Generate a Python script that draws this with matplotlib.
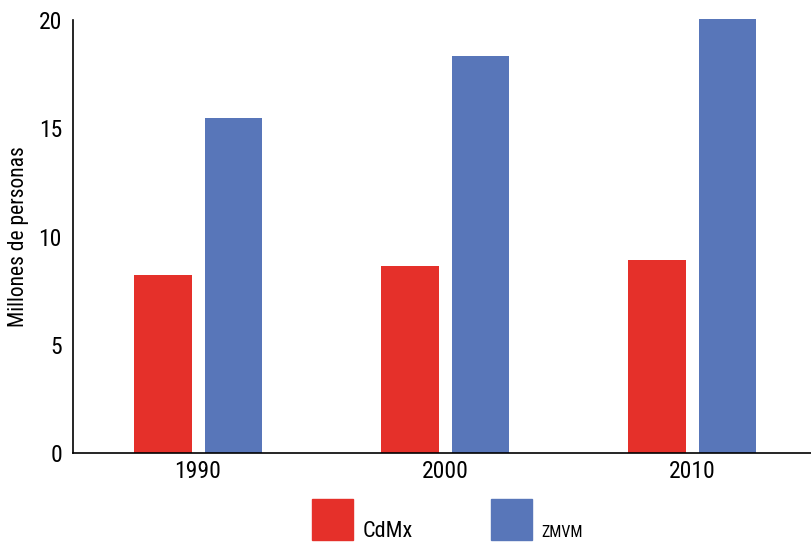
import matplotlib
matplotlib.use("Agg")
import matplotlib.pyplot as plt
from matplotlib.patches import Rectangle
from matplotlib import font_manager
import numpy as np

years = ["1990", "2000", "2010"]
cdmx = [8.22, 8.63, 8.91]
zmvm = [15.5, 18.35, 20.08]
series_names = ["CdMx", "ZMVM"]
yticks = [0, 5, 10, 15, 20]

RED = "#E5302A"
BLUE = "#5876B9"

# pick a condensed sans that is installed
names = {f.name for f in font_manager.fontManager.ttflist}
family = "DejaVu Sans"
for cand in ["Roboto Condensed", "Archivo Narrow", "Liberation Sans Narrow",
             "Barlow Semi Condensed", "Asap Condensed"]:
    if cand in names:
        family = cand
        break
plt.rcParams["font.family"] = [family, "DejaVu Sans"]

fig = plt.figure(figsize=(8.11, 5.43), dpi=100)
ax = fig.add_axes([0.090, 0.1657, 0.91, 0.797])

x = np.arange(len(years))
w = 0.232
ax.bar(x - 0.142, cdmx, w, color=RED, clip_on=False, zorder=2)
ax.bar(x + 0.144, zmvm, w, color=BLUE, clip_on=False, zorder=2)

ax.set_xlim(-0.506, 2.482)
ax.set_ylim(0, 20)
ax.set_xticks(x)
ax.set_xticklabels(years, fontsize=17)
ax.set_yticks(yticks)
ax.set_yticklabels([str(t) for t in yticks], fontsize=17)
ax.tick_params(length=0, pad=8)
ax.tick_params(axis="x", pad=5)
ax.spines["top"].set_visible(False)
ax.spines["right"].set_visible(False)
ax.spines["left"].set_linewidth(1.2)
ax.spines["bottom"].set_linewidth(1.2)
ax.spines["bottom"].set_zorder(3)
ax.set_ylabel("Millones de personas", fontsize=15.5, labelpad=7)

# legend drawn by hand
W, H = 811, 543
fig.add_artist(Rectangle((312 / W, 1 - 540 / H), 41 / W, 41 / H,
                         transform=fig.transFigure, color=RED))
fig.text(363 / W, 1 - 537 / H, series_names[0], fontsize=16, va="baseline")
fig.add_artist(Rectangle((491 / W, 1 - 540 / H), 41 / W, 41 / H,
                         transform=fig.transFigure, color=BLUE))
fig.text(541 / W, 1 - 537 / H, series_names[1], fontsize=11.5, va="baseline")

fig.savefig("out.png", dpi=100)
